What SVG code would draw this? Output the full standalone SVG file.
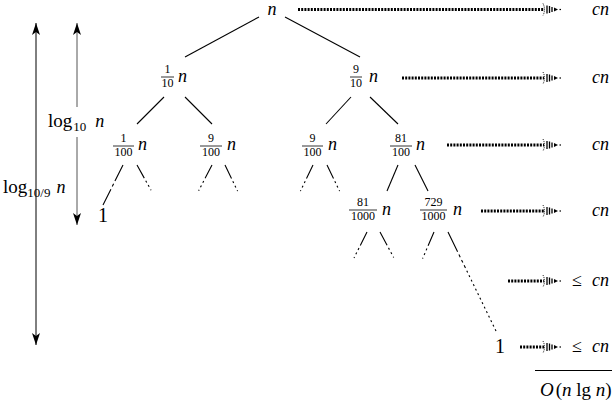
<svg xmlns="http://www.w3.org/2000/svg" width="616" height="407" viewBox="0 0 616 407">
<style>
text{font-family:"Liberation Serif","Times New Roman","DejaVu Serif",serif;fill:#000}
.it{font-family:"Liberation Serif","Times New Roman","DejaVu Serif",serif;font-style:italic;font-size:18px}
.fr{font-size:12px;text-anchor:middle}
.rm{font-size:19px}
.sub{font-size:13px}
.edge{stroke:#000;stroke-width:1.1;fill:none}
.dash{stroke:#000;stroke-width:1.1;fill:none;stroke-dasharray:15 3 2 3 2 3 1 3}
.dot{stroke:#000;stroke-width:3;fill:none;stroke-dasharray:2 1.2}
.bar{stroke:#000;stroke-width:0.8}
</style>
<defs>
<marker id="ar" viewBox="-13 -5 14 10" markerWidth="14" markerHeight="10" refX="0" refY="0" orient="auto-start-reverse" markerUnits="userSpaceOnUse">
<path d="M0,0 L-12,-4 L-9,0 L-12,4 Z" fill="#000"/>
</marker>
<g id="dah">
<path d="M-18,-6 Q-15,0 -18,6" stroke="#000" stroke-width="1" fill="none" stroke-dasharray="1 1"/>
<line x1="-14" y1="-4" x2="-14" y2="4" stroke="#000" stroke-width="1.3"/>
<line x1="-11.5" y1="-3.5" x2="-11.5" y2="3.5" stroke="#000" stroke-width="1.3"/>
<line x1="-9" y1="-2.5" x2="-9" y2="2.5" stroke="#000" stroke-width="1.3"/>
<path d="M-7,-2 L-3,0 L-7,2 Z" fill="#000"/>
<rect x="-1.5" y="-0.6" width="1.5" height="1.2" fill="#000"/>
</g>
</defs>

<g id="connectors">
<line class="edge" x1="259" y1="17" x2="185" y2="57"/>
<line class="edge" x1="285" y1="17" x2="360" y2="57"/>
<line class="edge" x1="164" y1="97" x2="137" y2="124"/>
<line class="edge" x1="185" y1="97" x2="212" y2="124"/>
<line class="edge" x1="351" y1="97" x2="326" y2="124"/>
<line class="edge" x1="370" y1="97" x2="398" y2="124"/>
<line class="dash" x1="123" y1="165" x2="103" y2="205" style="stroke-dasharray:18 3 3 3 30"/>
<line class="dash" x1="137" y1="165" x2="152" y2="192"/>
<line class="dash" x1="212" y1="165" x2="198" y2="192"/>
<line class="dash" x1="225" y1="165" x2="238" y2="192"/>
<line class="dash" x1="313" y1="165" x2="300" y2="192"/>
<line class="dash" x1="327" y1="165" x2="340" y2="192"/>
<line class="edge" x1="398" y1="165" x2="387" y2="191"/>
<line class="edge" x1="415" y1="165" x2="428" y2="191"/>
<line class="dash" x1="367" y1="232" x2="353" y2="260"/>
<line class="dash" x1="380" y1="232" x2="395" y2="260"/>
<line class="dash" x1="434" y1="232" x2="422" y2="260"/>
<line class="edge" x1="448" y1="232" x2="497" y2="333" style="stroke-dasharray:22 3 3 3 3 3 3 3 2 3 2 3 2 3 2 3 2 3 2 3 2 3 2 3 2 3 2 3 2 3 2 3 2 3 2 3 2 3 2 3 2 3 2 3 2 3 2 3 2 3 2 3 2 3 2 3 2 3 2 3 2 3 10"/>

<line class="dot" x1="298" y1="9.5" x2="544" y2="9.5"/>
<use href="#dah" x="561" y="9.5"/>
<line class="dot" x1="402" y1="78" x2="544" y2="78"/>
<use href="#dah" x="561" y="78"/>
<line class="dot" x1="447" y1="145" x2="544" y2="145"/>
<use href="#dah" x="561" y="145"/>
<line class="dot" x1="481" y1="211" x2="544" y2="211"/>
<use href="#dah" x="561" y="211"/>
<line class="dot" x1="508" y1="281" x2="544" y2="281"/>
<use href="#dah" x="561" y="281"/>
<line class="dot" x1="520" y1="347" x2="544" y2="347"/>
<use href="#dah" x="561" y="347"/>

<line x1="36" y1="23" x2="36" y2="345" stroke="#000" stroke-width="1" marker-start="url(#ar)" marker-end="url(#ar)"/>
<line x1="77" y1="23" x2="77" y2="107" stroke="#555" stroke-width="1" marker-start="url(#ar)"/>
<line x1="77" y1="137" x2="77" y2="225" stroke="#555" stroke-width="1" marker-end="url(#ar)"/>
<line x1="535" y1="370.5" x2="612" y2="370.5" stroke="#000" stroke-width="1"/>
</g>

<g id="root"><text class="it" x="272" y="15" text-anchor="middle">n</text></g>

<g id="n1_10">
<text class="fr" x="167.5" y="73">1</text><line class="bar" x1="161" y1="77" x2="174" y2="77"/><text class="fr" x="167.5" y="87">10</text>
<text class="it" x="178" y="82">n</text></g>
<g id="n9_10">
<text class="fr" x="356" y="73">9</text><line class="bar" x1="350" y1="77" x2="362" y2="77"/><text class="fr" x="356" y="87">10</text>
<text class="it" x="369" y="82">n</text></g>

<g id="n1_100">
<text class="fr" x="123.5" y="142">1</text><line class="bar" x1="113" y1="146" x2="134" y2="146"/><text class="fr" x="123.5" y="156">100</text>
<text class="it" x="138" y="150">n</text></g>
<g id="n9_100a">
<text class="fr" x="211" y="142">9</text><line class="bar" x1="200" y1="146" x2="222" y2="146"/><text class="fr" x="211" y="156">100</text>
<text class="it" x="227" y="150">n</text></g>
<g id="n9_100b">
<text class="fr" x="312.5" y="142">9</text><line class="bar" x1="302" y1="146" x2="323" y2="146"/><text class="fr" x="312.5" y="156">100</text>
<text class="it" x="328" y="150">n</text></g>
<g id="n81_100">
<text class="fr" x="401" y="142">81</text><line class="bar" x1="390" y1="146" x2="412" y2="146"/><text class="fr" x="401" y="156">100</text>
<text class="it" x="416" y="150">n</text></g>

<g id="n81_1000">
<text class="fr" x="363" y="206">81</text><line class="bar" x1="349" y1="210" x2="377" y2="210"/><text class="fr" x="363" y="220">1000</text>
<text class="it" x="382" y="215">n</text></g>
<g id="n729_1000">
<text class="fr" x="433.5" y="206">729</text><line class="bar" x1="420" y1="210" x2="447" y2="210"/><text class="fr" x="433.5" y="220">1000</text>
<text class="it" x="453" y="215">n</text></g>

<g id="leaf1"><text class="rm" x="103" y="222" text-anchor="middle" style="font-size:20px">1</text></g>
<g id="leaf2"><text class="rm" x="500" y="353" text-anchor="middle" style="font-size:20px">1</text></g>

<g id="costs">
<text class="it" x="592" y="15">cn</text>
<text class="it" x="592" y="83">cn</text>
<text class="it" x="592" y="150">cn</text>
<text class="it" x="592" y="216">cn</text>
<text class="rm" x="572" y="286" style="font-size:18px">≤</text><text class="it" x="592" y="286">cn</text>
<text class="rm" x="572" y="352" style="font-size:18px">≤</text><text class="it" x="592" y="352">cn</text>
<text class="rm" x="540" y="396" style="font-size:19px"><tspan class="it" style="font-size:19px">O</tspan><tspan dx="2">(</tspan><tspan class="it" style="font-size:19px">n</tspan> lg <tspan class="it" style="font-size:19px">n</tspan>)</text>
</g>

<g id="labels">
<text class="rm" x="48" y="127">log<tspan class="sub" dx="1" dy="4">10</tspan><tspan class="it" dx="9" dy="-4">n</tspan></text>
<text class="rm" x="3" y="193">log<tspan class="sub" dy="4">10/9</tspan><tspan class="it" dx="6" dy="-4">n</tspan></text>
</g>
</svg>
